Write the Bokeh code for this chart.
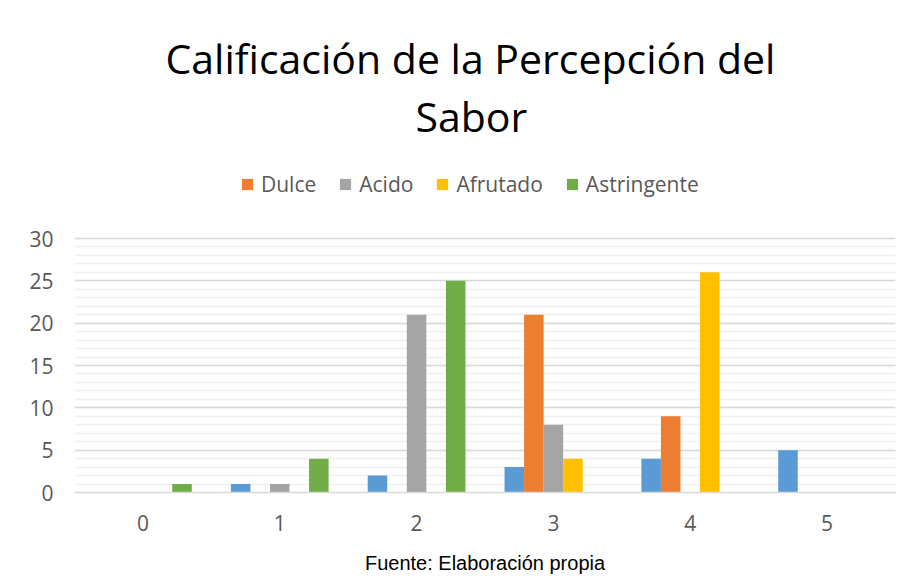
from bokeh.plotting import figure
from bokeh.models import (FactorRange, Range1d, Legend, LegendItem, Title,
                          ColumnDataSource, SingleIntervalTicker)
from bokeh.transform import dodge
from bokeh.embed import file_html
from bokeh.resources import INLINE

# ---- data ----
categories = ["0", "1", "2", "3", "4", "5"]
calificacion = [0, 1, 2, 3, 4, 5]
dulce = [0, 0, 0, 21, 9, 0]
acido = [0, 1, 21, 8, 0, 0]
afrutado = [0, 0, 0, 4, 26, 0]
astringente = [1, 4, 25, 0, 0, 0]
series_names = ["Calificación", "Dulce", "Acido", "Afrutado", "Astringente"]
colors = ["#5B9BD5", "#ED7D31", "#A5A5A5", "#FFC000", "#70AD47"]
y_max = 30
title_line1 = "Calificación de la Percepción del"
title_line2 = "Sabor"
caption = "Fuente: Elaboración propia"

source = ColumnDataSource(dict(cat=categories, s0=calificacion, s1=dulce,
                               s2=acido, s3=afrutado, s4=astringente))

# layout (canvas pixels): frame extends above the value area to hold the legend
W, H = 913, 578
frame_left_px, frame_right_px = 74, 895
frame_top_px, grid_top_px, frame_bottom_px = 143, 238, 492
y_end = y_max * (frame_bottom_px - frame_top_px) / (frame_bottom_px - grid_top_px)

p = figure(x_range=FactorRange(*categories), y_range=Range1d(0, y_end),
           width=W, height=H, output_backend="svg", toolbar_location=None,
           min_border_left=frame_left_px, min_border_right=W - frame_right_px,
           min_border_top=frame_top_px, min_border_bottom=H - frame_bottom_px,
           background_fill_color="white", border_fill_color="white")
p.outline_line_color = None

bw = 1.0 / 7
renderers = []
for i, col in enumerate(["s0", "s1", "s2", "s3", "s4"]):
    r = p.vbar(x=dodge("cat", (i - 2) * bw, range=p.x_range), top=col,
               width=bw, source=source, fill_color=colors[i], line_color=None)
    renderers.append(r)

# axes
p.yaxis.ticker = SingleIntervalTicker(interval=5, num_minor_ticks=5)
p.yaxis.bounds = (0, y_max)
p.yaxis.axis_line_color = None
p.yaxis.major_tick_line_color = None
p.yaxis.minor_tick_line_color = None
p.yaxis.major_label_standoff = 15
p.xaxis.axis_line_color = "#d9d9d9"
p.xaxis.axis_line_width = 1.3
p.xaxis.major_tick_line_color = None
p.xaxis.minor_tick_line_color = None
p.xaxis.major_label_standoff = 16
for ax in (p.xaxis, p.yaxis):
    ax.major_label_text_font = "Open Sans"
    ax.major_label_text_font_size = "21px"
    ax.major_label_text_color = "#595959"

# caption as the x-axis label
p.xaxis.axis_label = caption
p.xaxis.axis_label_text_font = "Liberation Sans"
p.xaxis.axis_label_text_font_size = "20px"
p.xaxis.axis_label_text_font_style = "normal"
p.xaxis.axis_label_text_color = "black"
p.xaxis.axis_label_standoff = 18

p.xgrid.grid_line_color = None
p.ygrid.bounds = (0, y_max)
p.ygrid.grid_line_color = "#d9d9d9"
p.ygrid.grid_line_width = 1.3
p.ygrid.minor_grid_line_color = "#f0f0f0"
p.ygrid.minor_grid_line_width = 1.3

# legend (blue series not shown), in the upper part of the frame
legend = Legend(items=[LegendItem(label=series_names[i], renderers=[renderers[i]])
                       for i in range(1, 5)],
                orientation="horizontal", location=(166, 294),
                label_text_font="Open Sans", label_text_font_size="21px",
                label_text_color="#595959", glyph_width=14, glyph_height=14,
                label_standoff=7, spacing=22, border_line_color=None,
                background_fill_alpha=0)
p.add_layout(legend)

t2 = Title(text=title_line2, align="left", offset=341, text_font="Open Sans",
           text_font_size="41px", text_font_style="normal", text_color="black",
           standoff=0)
t1 = Title(text=title_line1, align="left", offset=91, text_font="Open Sans",
           text_font_size="41px", text_font_style="normal", text_color="black",
           standoff=0)
p.add_layout(t2, "above")
p.add_layout(t1, "above")

open("out.html", "w").write(file_html(p, INLINE))
